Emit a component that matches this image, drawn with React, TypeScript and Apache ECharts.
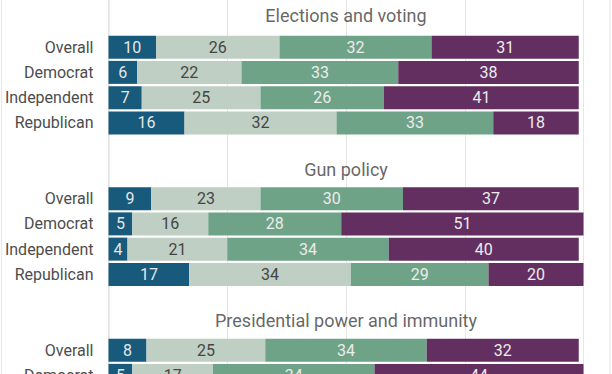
import React, { useEffect, useRef } from "react";
import * as echarts from "echarts";

const groupTitles = ["Elections and voting", "Gun policy", "Presidential power and immunity"];
const rowLabels = ["Overall", "Democrat", "Independent", "Republican"];
const seriesNames = ["Not at all", "Not too", "Somewhat", "Very"];

// values per group, per row: [blue, light, green, purple]
const electionsValues = [
  [10, 26, 32, 31],
  [6, 22, 33, 38],
  [7, 25, 26, 41],
  [16, 32, 33, 18],
];
const gunValues = [
  [9, 23, 30, 37],
  [5, 16, 28, 51],
  [4, 21, 34, 40],
  [17, 34, 29, 20],
];
const presidentialValues = [
  [8, 25, 34, 32],
  [5, 17, 34, 44],
];
const xTicks = [0, 25, 50, 75, 100];

const colors = ["#175a7b", "#bfcfc3", "#6fa387", "#632f61"];
const labelColors = ["#e6e6e6", "#454545", "#ececec", "#ececec"];

const OFFSET_TOP = 15.6;
const CHART_H = 404;

export default function App() {
  const ref = useRef<HTMLDivElement>(null);
  useEffect(() => {
    document.body.style.margin = "0";
    document.body.style.overflow = "hidden";
    if (!ref.current) return;
    const chart = echarts.init(ref.current, undefined, { renderer: "svg" });
    const allGroups = [electionsValues, gunValues, presidentialValues];
    const categories: string[] = [];
    const seriesData: (number | null)[][] = [[], [], [], []];
    const titleData: any[] = [];
    allGroups.forEach((vals, g) => {
      categories.push("");
      seriesData.forEach((s) => s.push(null));
      titleData.push({
        value: [50, categories.length],
        name: groupTitles[g],
        label: { offset: [0, g === 0 ? -6 : -4] },
      });
      categories.push("");
      seriesData.forEach((s) => s.push(null));
      vals.forEach((row, r) => {
        categories.push(rowLabels[r]);
        row.forEach((v, k) => seriesData[k].push(v));
      });
    });
    const font = "Roboto";
    const bars = seriesNames.map((name, k) => ({
      name,
      type: "bar",
      stack: "total",
      barWidth: 23,
      data: seriesData[k],
      itemStyle: { color: colors[k] },
      label: {
        show: true,
        position: "inside",
        color: labelColors[k],
        fontFamily: font,
        fontSize: 16,
        formatter: (p: any) => (p.value == null ? "" : String(p.value)),
      },
    }));
    chart.setOption({
      animation: false,
      grid: { left: 108.5, right: 28.5, top: 0, bottom: 0, containLabel: false },
      xAxis: {
        type: "value",
        min: xTicks[0],
        max: xTicks[xTicks.length - 1],
        interval: 25,
        axisLabel: { show: false },
        axisLine: { show: false },
        axisTick: { show: false },
        splitLine: { show: true, lineStyle: { color: "#e6e6e6", width: 1 } },
      },
      yAxis: {
        type: "category",
        inverse: true,
        data: categories,
        axisLine: { show: true, lineStyle: { color: "#e3e3e3", width: 1.5 } },
        axisTick: { show: false },
        axisLabel: { color: "#4d4d4d", fontFamily: font, fontSize: 16, margin: 15 },
      },
      graphic: [
        {
          type: "rect",
          shape: { x: 1.5, y: 0, width: 608.5, height: CHART_H + 10 },
          style: { fill: "none", stroke: "#e8e8e8", lineWidth: 1.2 },
          silent: true,
        },
      ],
      series: [
        ...bars,
        {
          type: "scatter",
          symbolSize: 0,
          data: titleData,
          silent: true,
          label: {
            show: true,
            position: "inside",
            formatter: (p: any) => p.name,
            color: "#3d3d3d",
            fontFamily: font,
            fontSize: 18,
          },
        },
      ],
    });
    return () => chart.dispose();
  }, []);
  return (
    <div style={{ width: 612, height: 374, overflow: "hidden", position: "relative" }}>
      <div
        ref={ref}
        style={{ position: "absolute", left: 0, top: -OFFSET_TOP, width: 612, height: CHART_H }}
      />
    </div>
  );
}
